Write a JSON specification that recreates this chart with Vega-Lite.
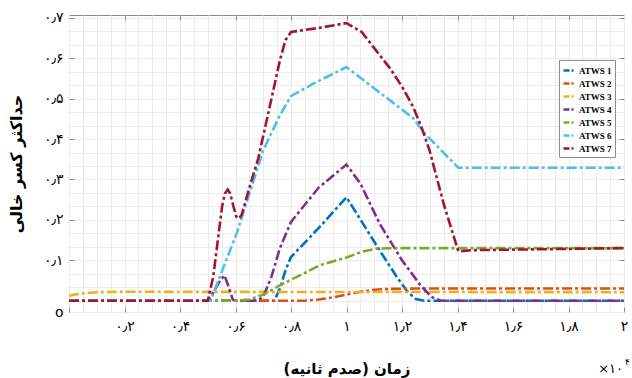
{
  "$schema": "https://vega.github.io/schema/vega-lite/v6.json",
  "width": 555,
  "height": 297,
  "autosize": {"type": "none"},
  "padding": {"left": 69, "top": 15, "right": 8, "bottom": 66},
  "background": "white",
  "config": {"view": {"stroke": "#8c8c8c", "strokeWidth": 1}, "font": "DejaVu Sans"},
  "data": {"values": [
    {"series": "ATWS 1", "t": 0, "v": 0}, {"series": "ATWS 1", "t": 0.74, "v": 0}, {"series": "ATWS 1", "t": 0.76, "v": 0.03}, {"series": "ATWS 1", "t": 0.78, "v": 0.075}, {"series": "ATWS 1", "t": 0.8, "v": 0.108}, {"series": "ATWS 1", "t": 0.9, "v": 0.18}, {"series": "ATWS 1", "t": 1.0, "v": 0.256}, {"series": "ATWS 1", "t": 1.06, "v": 0.19}, {"series": "ATWS 1", "t": 1.12, "v": 0.124}, {"series": "ATWS 1", "t": 1.18, "v": 0.06}, {"series": "ATWS 1", "t": 1.22, "v": 0.022}, {"series": "ATWS 1", "t": 1.25, "v": 0.004}, {"series": "ATWS 1", "t": 1.28, "v": 0}, {"series": "ATWS 1", "t": 2, "v": 0},
    {"series": "ATWS 2", "t": 0, "v": 0}, {"series": "ATWS 2", "t": 0.85, "v": 0}, {"series": "ATWS 2", "t": 0.9, "v": 0.003}, {"series": "ATWS 2", "t": 0.95, "v": 0.008}, {"series": "ATWS 2", "t": 1.0, "v": 0.015}, {"series": "ATWS 2", "t": 1.05, "v": 0.022}, {"series": "ATWS 2", "t": 1.1, "v": 0.027}, {"series": "ATWS 2", "t": 1.15, "v": 0.029}, {"series": "ATWS 2", "t": 1.25, "v": 0.03}, {"series": "ATWS 2", "t": 2, "v": 0.03},
    {"series": "ATWS 3", "t": 0, "v": 0.012}, {"series": "ATWS 3", "t": 0.02, "v": 0.015}, {"series": "ATWS 3", "t": 0.05, "v": 0.018}, {"series": "ATWS 3", "t": 0.1, "v": 0.021}, {"series": "ATWS 3", "t": 0.2, "v": 0.022}, {"series": "ATWS 3", "t": 2, "v": 0.021},
    {"series": "ATWS 4", "t": 0, "v": 0}, {"series": "ATWS 4", "t": 0.5, "v": 0}, {"series": "ATWS 4", "t": 0.52, "v": 0.02}, {"series": "ATWS 4", "t": 0.54, "v": 0.045}, {"series": "ATWS 4", "t": 0.56, "v": 0.063}, {"series": "ATWS 4", "t": 0.575, "v": 0.035}, {"series": "ATWS 4", "t": 0.59, "v": 0.003}, {"series": "ATWS 4", "t": 0.6, "v": 0}, {"series": "ATWS 4", "t": 0.68, "v": 0}, {"series": "ATWS 4", "t": 0.7, "v": 0.01}, {"series": "ATWS 4", "t": 0.73, "v": 0.06}, {"series": "ATWS 4", "t": 0.76, "v": 0.13}, {"series": "ATWS 4", "t": 0.8, "v": 0.195}, {"series": "ATWS 4", "t": 0.9, "v": 0.28}, {"series": "ATWS 4", "t": 1.0, "v": 0.337}, {"series": "ATWS 4", "t": 1.05, "v": 0.29}, {"series": "ATWS 4", "t": 1.12, "v": 0.19}, {"series": "ATWS 4", "t": 1.2, "v": 0.1}, {"series": "ATWS 4", "t": 1.27, "v": 0.035}, {"series": "ATWS 4", "t": 1.31, "v": 0.008}, {"series": "ATWS 4", "t": 1.34, "v": 0}, {"series": "ATWS 4", "t": 2, "v": 0},
    {"series": "ATWS 5", "t": 0, "v": 0}, {"series": "ATWS 5", "t": 0.6, "v": 0}, {"series": "ATWS 5", "t": 0.65, "v": 0.003}, {"series": "ATWS 5", "t": 0.7, "v": 0.015}, {"series": "ATWS 5", "t": 0.76, "v": 0.038}, {"series": "ATWS 5", "t": 0.83, "v": 0.062}, {"series": "ATWS 5", "t": 0.905, "v": 0.088}, {"series": "ATWS 5", "t": 1.0, "v": 0.107}, {"series": "ATWS 5", "t": 1.06, "v": 0.122}, {"series": "ATWS 5", "t": 1.11, "v": 0.129}, {"series": "ATWS 5", "t": 1.16, "v": 0.13}, {"series": "ATWS 5", "t": 2, "v": 0.13},
    {"series": "ATWS 6", "t": 0, "v": 0}, {"series": "ATWS 6", "t": 0.51, "v": 0}, {"series": "ATWS 6", "t": 0.604, "v": 0.166}, {"series": "ATWS 6", "t": 0.7, "v": 0.372}, {"series": "ATWS 6", "t": 0.76, "v": 0.459}, {"series": "ATWS 6", "t": 0.8, "v": 0.506}, {"series": "ATWS 6", "t": 0.88, "v": 0.537}, {"series": "ATWS 6", "t": 1.0, "v": 0.578}, {"series": "ATWS 6", "t": 1.12, "v": 0.515}, {"series": "ATWS 6", "t": 1.24, "v": 0.452}, {"series": "ATWS 6", "t": 1.28, "v": 0.415}, {"series": "ATWS 6", "t": 1.403, "v": 0.329}, {"series": "ATWS 6", "t": 2, "v": 0.329},
    {"series": "ATWS 7", "t": 0, "v": 0}, {"series": "ATWS 7", "t": 0.5, "v": 0}, {"series": "ATWS 7", "t": 0.52, "v": 0.06}, {"series": "ATWS 7", "t": 0.54, "v": 0.17}, {"series": "ATWS 7", "t": 0.552, "v": 0.235}, {"series": "ATWS 7", "t": 0.562, "v": 0.265}, {"series": "ATWS 7", "t": 0.572, "v": 0.275}, {"series": "ATWS 7", "t": 0.581, "v": 0.265}, {"series": "ATWS 7", "t": 0.592, "v": 0.235}, {"series": "ATWS 7", "t": 0.603, "v": 0.208}, {"series": "ATWS 7", "t": 0.612, "v": 0.203}, {"series": "ATWS 7", "t": 0.622, "v": 0.212}, {"series": "ATWS 7", "t": 0.635, "v": 0.243}, {"series": "ATWS 7", "t": 0.65, "v": 0.28}, {"series": "ATWS 7", "t": 0.682, "v": 0.352}, {"series": "ATWS 7", "t": 0.72, "v": 0.47}, {"series": "ATWS 7", "t": 0.76, "v": 0.595}, {"series": "ATWS 7", "t": 0.78, "v": 0.645}, {"series": "ATWS 7", "t": 0.8, "v": 0.665}, {"series": "ATWS 7", "t": 0.9, "v": 0.675}, {"series": "ATWS 7", "t": 1.0, "v": 0.687}, {"series": "ATWS 7", "t": 1.055, "v": 0.665}, {"series": "ATWS 7", "t": 1.1, "v": 0.625}, {"series": "ATWS 7", "t": 1.157, "v": 0.575}, {"series": "ATWS 7", "t": 1.2, "v": 0.53}, {"series": "ATWS 7", "t": 1.24, "v": 0.48}, {"series": "ATWS 7", "t": 1.27, "v": 0.43}, {"series": "ATWS 7", "t": 1.3, "v": 0.37}, {"series": "ATWS 7", "t": 1.35, "v": 0.24}, {"series": "ATWS 7", "t": 1.403, "v": 0.122}, {"series": "ATWS 7", "t": 1.45, "v": 0.125}, {"series": "ATWS 7", "t": 2, "v": 0.13}
  ]},
  "layer": [
    {
      "mark": {"type": "line", "strokeWidth": 2.6, "strokeDash": [10, 3, 3, 3], "clip": true},
      "encoding": {
        "x": {"field": "t", "type": "quantitative",
          "scale": {"domain": [0, 2], "nice": false, "zero": false},
          "axis": {"orient": "bottom",
            "values": [0,0.05,0.1,0.15,0.2,0.25,0.3,0.35,0.4,0.45,0.5,0.55,0.6,0.65,0.7,0.75,0.8,0.85,0.9,0.95,1,1.05,1.1,1.15,1.2,1.25,1.3,1.35,1.4,1.45,1.5,1.55,1.6,1.65,1.7,1.75,1.8,1.85,1.9,1.95,2],
            "grid": true, "gridColor": "#ececec", "gridWidth": 1, "domain": false,
            "tickSize": -5, "tickWidth": 1,
            "tickColor": {"condition": {"test": "abs(datum.value*5 - round(datum.value*5)) < 0.001", "value": "#8c8c8c"}, "value": "rgba(0,0,0,0)"},
            "labelExpr": "datum.value < 0.01 || abs(datum.value*5 - round(datum.value*5)) > 0.001 ? '' : (['۰','۱','۲','۳','۴','۵','۶','۷','۸','۹'][floor(round(datum.value*10)/10)] + (round(datum.value*10) % 10 == 0 ? '' : '٫' + ['۰','۱','۲','۳','۴','۵','۶','۷','۸','۹'][round(datum.value*10) % 10]))",
            "labelFontSize": 14, "labelColor": "black", "labelPadding": 12, "labelFlush": false, "labelOverlap": false,
            "title": "‏زمان (صدم ثانیه)‏", "titleFontSize": 15, "titleFontWeight": "bold", "titleColor": "black", "titlePadding": 28}},
        "y": {"field": "v", "type": "quantitative",
          "scale": {"domain": [-0.028, 0.707], "nice": false, "zero": false},
          "axis": {"orient": "left",
            "values": [-0.028,0,0.0333,0.0667,0.1,0.1333,0.1667,0.2,0.2333,0.2667,0.3,0.3333,0.3667,0.4,0.4333,0.4667,0.5,0.5333,0.5667,0.6,0.6333,0.6667,0.7],
            "grid": true, "gridColor": "#ececec", "gridWidth": 1, "domain": false,
            "tickSize": -5, "tickWidth": 1,
            "tickColor": {"condition": {"test": "datum.value > 0.05 && abs(datum.value*10 - round(datum.value*10)) < 0.01", "value": "#8c8c8c"}, "value": "rgba(0,0,0,0)"},
            "labelExpr": "datum.value < -0.01 ? 'o' : (datum.value > 0.05 && abs(datum.value*10 - round(datum.value*10)) < 0.01 ? '۰٫' + ['۰','۱','۲','۳','۴','۵','۶','۷','۸','۹'][round(datum.value*10)] : '')",
            "labelFontSize": 14, "labelColor": "black", "labelPadding": 11, "labelOverlap": false, "labelFlush": false,
            "title": "حداکثر کسر خالی", "titleFontSize": 16, "titleFontWeight": "bold", "titleColor": "black", "titlePadding": 19}},
        "color": {"field": "series", "type": "nominal",
          "scale": {"domain": ["ATWS 1","ATWS 2","ATWS 3","ATWS 4","ATWS 5","ATWS 6","ATWS 7"],
                    "range": ["#0072BD","#D95319","#EDB120","#7E2F8E","#77AC30","#4DBEEE","#A2142F"]},
          "legend": {"orient": "none", "legendX": 490, "legendY": 45, "title": null,
            "symbolType": "stroke", "symbolStrokeWidth": 2.5, "symbolSize": 144, "symbolDash": [6, 2, 2, 2],
            "labelFont": "Liberation Serif", "labelFontWeight": "bold", "labelFontSize": 9, "labelColor": "black", "labelOffset": 2,
            "fillColor": "white", "strokeColor": "#8c8c8c", "padding": 3, "rowPadding": 0}}
      }
    },
    {
      "data": {"values": [{"label": "×۱۰"}]},
      "mark": {"type": "text", "align": "right", "baseline": "alphabetic", "dx": -1, "dy": 61, "fontSize": 13, "color": "black"},
      "encoding": {
        "text": {"field": "label"},
        "x": {"datum": 2, "type": "quantitative",
          "axis": {"orient": "top", "values": [0.2,0.4,0.6,0.8,1,1.2,1.4,1.6,1.8], "labels": false, "grid": false, "domain": false, "tickSize": -5, "tickColor": "#8c8c8c", "title": null}},
        "y": {"datum": -0.028, "type": "quantitative",
          "axis": {"orient": "right", "values": [0.1,0.2,0.3,0.4,0.5,0.6,0.7], "labels": false, "grid": false, "domain": false, "tickSize": -5, "tickColor": "#8c8c8c", "title": null}}
      }
    },
    {
      "data": {"values": [{"label": "۴"}]},
      "mark": {"type": "text", "align": "left", "baseline": "alphabetic", "dx": 1, "dy": 53, "fontSize": 9, "color": "black"},
      "encoding": {
        "text": {"field": "label"},
        "x": {"datum": 2, "type": "quantitative", "axis": null},
        "y": {"datum": -0.028, "type": "quantitative", "axis": null}
      }
    }
  ],
  "resolve": {"axis": {"x": "independent", "y": "independent"}}
}
